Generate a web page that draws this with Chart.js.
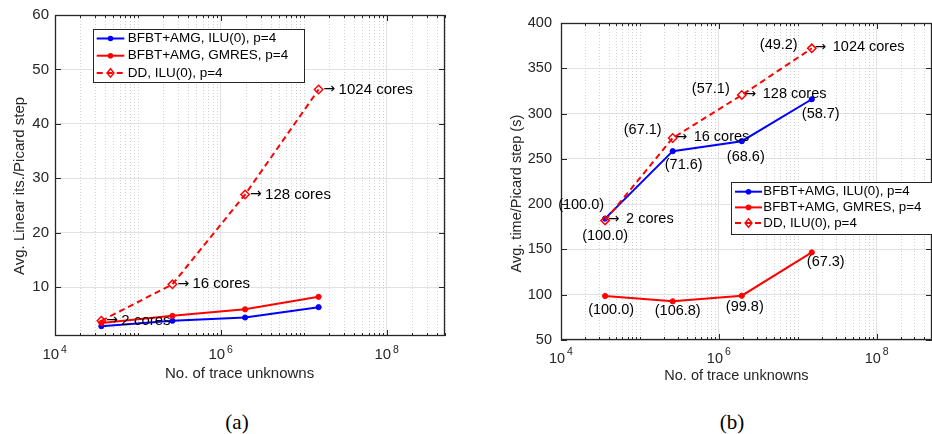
<!DOCTYPE html>
<html>
<head>
<meta charset="utf-8">
<script src="https://cdn.jsdelivr.net/npm/chart.js@4.4.0/dist/chart.umd.min.js"></script>
<style>
  html, body { margin: 0; padding: 0; background: #fff; }
  body { width: 932px; height: 434px; overflow: hidden; position: relative; }
  canvas { position: absolute; top: 0; }
  #chartA { left: 0; }
  #chartB { left: 480px; }
  .cap { position: absolute; top: 410px; font-family: "Liberation Serif", serif; font-size: 21px; color: #000; transform: translateX(-50%); }
</style>
</head>
<body>
<canvas id="chartA" width="466" height="400"></canvas>
<canvas id="chartB" width="462" height="400"></canvas>
<div class="cap" style="left:237px">(a)</div>
<div class="cap" style="left:732px">(b)</div>
<script>
// ---- data ----
const unknowns = [3.62e4, 2.6e5, 1.95e6, 1.5e7];
const coreLabels = ["2 cores", "16 cores", "128 cores", "1024 cores"];
const seriesNames = ["BFBT+AMG, ILU(0), p=4", "BFBT+AMG, GMRES, p=4", "DD, ILU(0), p=4"];

// (a) linear iterations per Picard step
const itsIlu = [2.8, 3.8, 4.4, 6.3];
const itsGmres = [3.4, 4.7, 5.9, 8.2];
const itsDD = [3.8, 10.5, 27.0, 46.3];

// (b) time per Picard step (s), with parallel efficiency labels
const timeIlu = [184, 258.5, 269.5, 315.8];
const timeGmres = [98.6, 92.7, 98.9, 146.7];
const timeDD = [182, 273, 320.5, 372];
const effIlu = ["(100.0)", "(71.6)", "(68.6)", "(58.7)"];
const effGmres = ["(100.0)", "(106.8)", "(99.8)", "(67.3)"];
const effDD = ["(100.0)", "(67.1)", "(57.1)", "(49.2)"];

// axes
const xMajor = [1e4, 1e6, 1e8];
const xMajorBase = "10";
const xMajorExp = ["4", "6", "8"];
const yTicksA = [10, 20, 30, 40, 50, 60];
const yTicksB = [50, 100, 150, 200, 250, 300, 350, 400];

// minor log grid positions 1..9 x 10^k (decoration only)
const xGrid = [];
for (let k = 4; k <= 8; k++) {
  for (let m = 1; m <= 9; m++) {
    const v = m * Math.pow(10, k);
    if (v <= 5e8) xGrid.push(v);
  }
}

const FONT = '"Liberation Sans", Arial, sans-serif';
const INK = "#262626";
const BLUE = "#0000ff";
const RED = "#ff0000";
const NB = "\u00a0";

function series(label, ys, color, dashed, order) {
  return {
    label,
    data: unknowns.map((x, i) => ({ x, y: ys[i] })),
    borderColor: color,
    backgroundColor: dashed ? "rgba(255,255,255,0)" : color,
    borderWidth: 2,
    borderDash: dashed ? [6, 4] : [],
    pointStyle: dashed ? "rectRot" : "circle",
    pointRadius: dashed ? 4.2 : 2.6,
    pointBorderWidth: dashed ? 1.5 : 1,
    pointBorderColor: color,
    pointBackgroundColor: dashed ? "rgba(255,255,255,0)" : color,
    tension: 0,
    order
  };
}

// box, inner ticks and dotted minor grid, MATLAB style
const matlabFrame = {
  id: "matlabFrame",
  beforeDatasetsDraw(chart) {
    const { ctx, chartArea: a, scales: { x, y } } = chart;
    const seg = (x1, y1, x2, y2) => { ctx.beginPath(); ctx.moveTo(x1, y1); ctx.lineTo(x2, y2); ctx.stroke(); };
    ctx.save();
    ctx.lineWidth = 1;
    ctx.strokeStyle = "#d2d2d2";
    ctx.setLineDash([1, 2]);
    x.ticks.forEach(t => {
      if (xMajor.includes(t.value)) return;
      const px = Math.round(x.getPixelForValue(t.value)) + 0.5;
      seg(px, a.top, px, a.bottom);
    });
    ctx.setLineDash([]);
    ctx.strokeStyle = INK;
    x.ticks.forEach(t => {
      const len = xMajor.includes(t.value) ? 6 : 3;
      const px = Math.round(x.getPixelForValue(t.value)) + 0.5;
      seg(px, a.bottom, px, a.bottom - len);
      seg(px, a.top, px, a.top + len);
    });
    y.ticks.forEach(t => {
      const py = Math.round(y.getPixelForValue(t.value)) + 0.5;
      seg(a.left, py, a.left + 6, py);
      seg(a.right, py, a.right - 6, py);
    });
    ctx.lineWidth = 1.3;
    ctx.strokeRect(a.left + 0.5, a.top + 0.5, a.right - a.left - 1, a.bottom - a.top - 1);

    // exponents of the 10^k tick labels
    const e = chart.options.plugins.notes.exp;
    ctx.fillStyle = INK;
    ctx.font = e.size + "px " + FONT;
    ctx.textAlign = "left";
    ctx.textBaseline = "middle";
    xMajor.forEach((v, i) => {
      ctx.fillText(xMajorExp[i], x.getPixelForValue(v) + e.dx, a.bottom + e.dy);
    });
    ctx.restore();
  }
};

// point labels and the boxed legend
const notes = {
  id: "notes",
  afterDatasetsDraw(chart, args, opts) {
    const { ctx, chartArea: a, scales: { x, y } } = chart;
    ctx.save();
    ctx.fillStyle = "#000";
    ctx.textBaseline = "middle";
    (opts.labels || []).forEach(g => {
      ctx.textAlign = g.align;
      const pts = chart.data.datasets[g.ds].data;
      g.texts.forEach((txt, i) => {
        const off = Array.isArray(g.off[0]) ? g.off[i] : g.off;
        const px = x.getPixelForValue(pts[i].x);
        const py = y.getPixelForValue(pts[i].y) + off[1];
        if (g.arrow) {
          ctx.font = (g.size - 1) + 'px "DejaVu Sans", sans-serif';
          ctx.fillText("\u2192", px + g.arrow, py);
        }
        ctx.font = g.size + "px " + FONT;
        ctx.fillText(txt, px + off[0], py);
      });
    });

    const L = opts.legend;
    if (L) {
      const bx = a.left + L.x, by = a.top + L.y;
      ctx.fillStyle = "#fff";
      ctx.fillRect(bx, by, L.w, L.h);
      ctx.strokeStyle = INK;
      ctx.lineWidth = 1;
      ctx.strokeRect(Math.round(bx) + 0.5, Math.round(by) + 0.5, L.w, L.h);
      ctx.font = L.size + "px " + FONT;
      ctx.textAlign = "left";
      chart.data.datasets.forEach((ds, i) => {
        const ry = by + L.first + i * L.step;
        ctx.strokeStyle = ds.borderColor;
        ctx.lineWidth = 2;
        ctx.setLineDash(ds.borderDash);
        ctx.beginPath();
        ctx.moveTo(bx + L.s0, ry);
        ctx.lineTo(bx + L.s1, ry);
        ctx.stroke();
        ctx.setLineDash([]);
        const mx = bx + (L.s0 + L.s1) / 2;
        ctx.beginPath();
        if (ds.pointStyle === "rectRot") {
          ctx.lineWidth = 1.5;
          ctx.moveTo(mx, ry - 4.2); ctx.lineTo(mx + 3.4, ry); ctx.lineTo(mx, ry + 4.2); ctx.lineTo(mx - 3.4, ry); ctx.closePath();
          ctx.stroke();
        } else {
          ctx.fillStyle = ds.borderColor;
          ctx.arc(mx, ry, 2.8, 0, Math.PI * 2);
          ctx.fill();
        }
        ctx.fillStyle = "#000";
        ctx.fillText(seriesNames[i], bx + L.text, ry);
      });
    }
    ctx.restore();
  }
};

function makeChart(id, cfg) {
  const tickFont = { family: FONT, size: cfg.font };
  return new Chart(document.getElementById(id), {
    type: "line",
    data: { datasets: cfg.datasets },
    plugins: [matlabFrame, notes],
    options: {
      responsive: false,
      animation: false,
      events: [],
      layout: { padding: { top: cfg.padTop, right: cfg.padRight, left: 0, bottom: 0 } },
      plugins: {
        legend: { display: false },
        tooltip: { enabled: false },
        notes: { labels: cfg.labels, legend: cfg.legend, exp: cfg.exp }
      },
      scales: {
        x: {
          type: "logarithmic",
          min: 1e4,
          max: 5e8,
          afterBuildTicks: s => { s.ticks = xGrid.map(v => ({ value: v })); },
          afterFit: s => { s.height = cfg.xHeight; },
          ticks: {
            autoSkip: false, maxRotation: 0, padding: cfg.xTickPad, color: INK, font: tickFont,
            // base only; the exponent is set by the frame plugin next to it
            callback: v => xMajor.includes(v) ? xMajorBase + NB + NB : ""
          },
          grid: {
            drawTicks: false, lineWidth: 1,
            color: c => (c.tick && xMajor.includes(c.tick.value)) ? "#e2e2e2" : "rgba(0,0,0,0)"
          },
          border: { display: false },
          title: {
            display: true, text: "No. of trace unknowns" + NB.repeat(5), color: INK,
            font: { family: FONT, size: cfg.font }, padding: { top: 0, bottom: cfg.xTitlePad }
          }
        },
        y: {
          type: "linear",
          min: cfg.yMin,
          max: cfg.yMax,
          afterBuildTicks: s => { s.ticks = cfg.yTicks.map(v => ({ value: v })); },
          afterFit: s => { s.width = cfg.yWidth; },
          ticks: { padding: cfg.yTickPad, color: INK, font: tickFont },
          grid: { drawTicks: false, lineWidth: 1, color: "#e2e2e2" },
          border: { display: false },
          title: {
            display: true, text: cfg.yTitle + NB.repeat(cfg.yTitleShift), color: INK,
            font: { family: FONT, size: cfg.font }, padding: { top: cfg.yTitlePad, bottom: 0 }
          }
        }
      }
    }
  });
}

makeChart("chartA", {
  datasets: [
    series(seriesNames[0], itsIlu, BLUE, false, 2),
    series(seriesNames[1], itsGmres, RED, false, 1),
    series(seriesNames[2], itsDD, RED, true, 0)
  ],
  font: 15,
  padTop: 14, padRight: 21,
  xHeight: 64, xTickPad: 10, xTitlePad: 17,
  yWidth: 55, yTickPad: 6, yTitlePad: 11, yTitleShift: 5,
  yMin: 1, yMax: 60, yTicks: yTicksA,
  yTitle: "Avg. Linear its./Picard step",
  exp: { dx: 6, dy: 14.5, size: 10.5 },
  labels: [
    { ds: 2, texts: coreLabels, arrow: 5, align: "left", size: 15, off: [20, 0] }
  ],
  legend: { x: 38, y: 14, w: 211, h: 53, first: 9.5, step: 17.2, s0: 3.7, s1: 31.3, text: 34.7, size: 13.5 }
});

makeChart("chartB", {
  datasets: [
    series(seriesNames[0], timeIlu, BLUE, false, 2),
    series(seriesNames[1], timeGmres, RED, false, 1),
    series(seriesNames[2], timeDD, RED, true, 0)
  ],
  font: 14.5,
  padTop: 23, padRight: 0,
  xHeight: 60, xTickPad: 10, xTitlePad: 15,
  yWidth: 81, yTickPad: 9, yTitlePad: 28, yTitleShift: 6,
  yMin: 50, yMax: 400, yTicks: yTicksB,
  yTitle: "Avg. time/Picard step (s)",
  exp: { dx: 6, dy: 12, size: 10.5 },
  labels: [
    { ds: 2, texts: coreLabels, arrow: 3, align: "left", size: 14.5, off: [21, -1] },
    { ds: 2, texts: effDD, align: "center", size: 14.5, off: [[-24, -15], [-30, -8], [-31, -6], [-33, -3]] },
    { ds: 0, texts: effIlu, align: "center", size: 14.5, off: [[0, 17], [11, 14], [4, 16], [9, 15]] },
    { ds: 1, texts: effGmres, align: "center", size: 14.5, off: [[6, 14], [5, 10], [3, 11], [14, 10]] }
  ],
  legend: { x: 170, y: 159, w: 211, h: 52, first: 9.7, step: 15.7, s0: 4, s1: 31, text: 32.3, size: 13.3 }
});
</script>
</body>
</html>
